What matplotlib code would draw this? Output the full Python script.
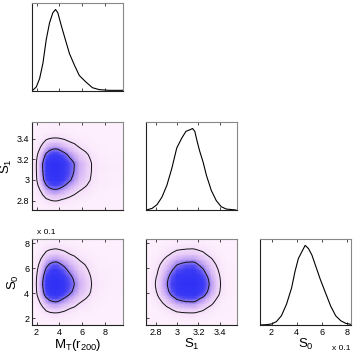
import numpy as np
import matplotlib
matplotlib.use("Agg")
import matplotlib.pyplot as plt
from matplotlib.colors import LinearSegmentedColormap

plt.rcParams['font.family'] = ['Liberation Sans', 'DejaVu Sans']
plt.rcParams['mathtext.default'] = 'regular'

# Marginal posterior of M_T(r200)
m_x = [1.6, 1.98, 2.27, 2.56, 2.85, 3.14, 3.43, 3.67, 3.87, 4.16, 4.45, 4.89,
       5.32, 5.76, 6.34, 6.92, 7.51, 8.38, 9.6]
m_p = [0.0, 0.05, 0.153, 0.34, 0.63, 0.835, 0.96, 1.0, 0.96, 0.81, 0.67, 0.46,
       0.32, 0.19, 0.11, 0.04, 0.017, 0.008, 0.008]

# Marginal posterior of S1
s1_x = [2.715, 2.767, 2.813, 2.859, 2.905, 2.951, 2.997, 3.043, 3.083, 3.12,
        3.145, 3.166, 3.188, 3.212, 3.243, 3.274, 3.32, 3.366, 3.412, 3.458, 3.55]
s1_p = [0.0, 0.02, 0.066, 0.158, 0.303, 0.51, 0.76, 0.88, 0.965, 0.985,
        1.0, 0.965, 0.84, 0.72, 0.59, 0.427, 0.24, 0.116, 0.041, 0.012, 0.0]

# Marginal posterior of S0 (in units of 0.1)
s0_x = [1.08, 1.567, 1.973, 2.378, 2.784, 3.19, 3.596, 3.866, 4.137, 4.407,
        4.678, 4.948, 5.219, 5.49, 5.895, 6.301, 6.707, 7.113, 7.518, 7.924, 8.33]
s0_p = [0.0, 0.004, 0.012, 0.041, 0.115, 0.26, 0.465, 0.67, 0.835, 0.918,
        1.0, 0.959, 0.877, 0.753, 0.568, 0.403, 0.239, 0.115, 0.053, 0.02, 0.008]

m_lim = (1.6, 9.6)
s1_lim = (2.71, 3.56)
s0_lim_x = (1.08, 8.33)
s0_lim_y = (1.46, 8.34)

m_ticks = [2, 4, 6, 8]
s1_ticks = [2.8, 3.0, 3.2, 3.4]
s1_ticklabels = ['2.8', '3', '3.2', '3.4']
s0_ticks = [2, 4, 6, 8]

levels_frac = [0.05, 0.32]   # 95% and 68% regions

cmap = LinearSegmentedColormap.from_list(
    'pinkblue', [(0.0, '#fdeffd'), (0.04, '#f6e0fa'), (0.15, '#dcbcf5'),
                 (0.28, '#a88cf2'), (0.40, '#5f55f3'), (0.55, '#3a3af5'),
                 (1.0, '#3030f5')])

fig = plt.figure(figsize=(3.54, 3.54), dpi=100)
W = H = 354.0

def add_ax(l, t, r, b):
    return fig.add_axes([l / W, 1 - b / H, (r - l) / W, (b - t) / H])

cols = [(32, 123), (146, 237), (260, 351)]
rows = [(3, 91), (122, 210), (239, 325)]

def style(ax):
    ax.tick_params(direction='in', length=2, width=0.5, labelsize=6.5,
                   top=True, right=False, pad=2, colors='black')
    for s in ['top', 'right']:
        ax.spines[s].set_color('#888888')
    for s in ['left', 'bottom']:
        ax.spines[s].set_color('#222222')
    for s in ax.spines.values():
        s.set_linewidth(0.8)

def one_d(ax, x, p, lim, ticks):
    ax.plot(x, p, color='black', lw=0.8)
    ax.set_xlim(*lim)
    ax.set_ylim(0, 1.08)
    ax.set_yticks([])
    ax.set_xticks(ticks)
    style(ax)

def two_d(ax, x, px, y, py, xlim, ylim):
    X, Y = np.meshgrid(x, y)
    Z = np.outer(py, px)
    ax.set_facecolor('#fdeffd')
    ax.pcolormesh(X, Y, Z, cmap=cmap, vmin=0, vmax=1, shading='gouraud')
    ax.contour(X, Y, Z, levels=levels_frac, colors='#111111', linewidths=0.7)
    ax.set_xlim(*xlim)
    ax.set_ylim(*ylim)
    style(ax)

# Row 1
ax11 = add_ax(cols[0][0], rows[0][0], cols[0][1], rows[0][1])
one_d(ax11, m_x, m_p, m_lim, m_ticks)
ax11.set_xticklabels([])

# Row 2
ax21 = add_ax(cols[0][0], rows[1][0], cols[0][1], rows[1][1])
two_d(ax21, m_x, m_p, s1_x, s1_p, m_lim, s1_lim)
ax21.set_xticks(m_ticks)
ax21.set_xticklabels([])
ax21.set_yticks(s1_ticks)
ax21.set_yticklabels(s1_ticklabels)
ax21.set_ylabel('S$_1$', fontsize=9.5, labelpad=2)

ax22 = add_ax(cols[1][0], rows[1][0], cols[1][1], rows[1][1])
one_d(ax22, s1_x, s1_p, s1_lim, s1_ticks)
ax22.set_xticklabels([])

# Row 3
ax31 = add_ax(cols[0][0], rows[2][0], cols[0][1], rows[2][1])
two_d(ax31, m_x, m_p, s0_x, s0_p, m_lim, s0_lim_y)
ax31.set_xticks(m_ticks)
ax31.set_xticklabels([str(t) for t in m_ticks])
ax31.set_yticks(s0_ticks)
ax31.set_yticklabels([str(t) for t in s0_ticks])
ax31.set_ylabel('S$_0$', fontsize=9.5, labelpad=2)
ax31.set_xlabel('M$_T$(r$_{200}$)', fontsize=9.5, labelpad=0)

ax32 = add_ax(cols[1][0], rows[2][0], cols[1][1], rows[2][1])
two_d(ax32, s1_x, s1_p, s0_x, s0_p, s1_lim, s0_lim_y)
ax32.set_xticks(s1_ticks)
ax32.set_xticklabels(s1_ticklabels)
ax32.set_yticks(s0_ticks)
ax32.set_yticklabels([])
ax32.set_xlabel('S$_1$', fontsize=9.5, labelpad=0)

ax33 = add_ax(cols[2][0], rows[2][0], cols[2][1], rows[2][1])
one_d(ax33, s0_x, s0_p, s0_lim_x, s0_ticks)
ax33.set_xticklabels([str(t) for t in s0_ticks])
ax33.set_xlabel('S$_0$', fontsize=9.5, labelpad=0)

fig.text(37 / W, 1 - 236 / H, 'x 0.1', fontsize=6, va='bottom', ha='left')
fig.text(351 / W, 1 - 352 / H, 'x 0.1', fontsize=6, va='bottom', ha='right')

fig.savefig('out.png', dpi=100)
